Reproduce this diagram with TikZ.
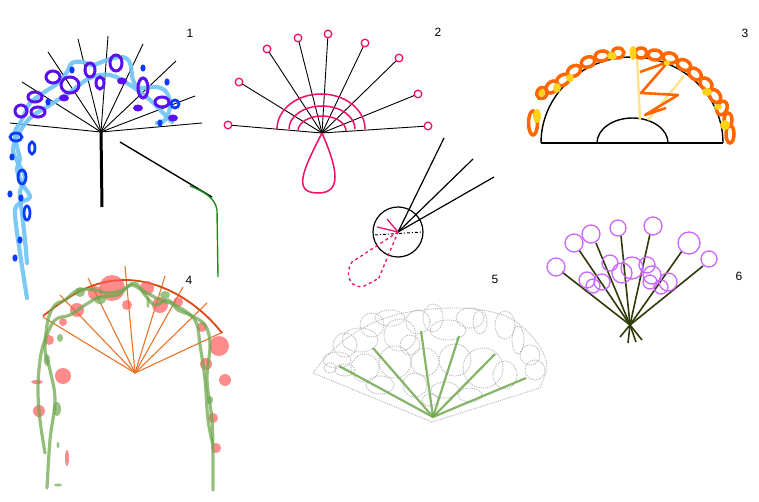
\documentclass[tikz,border=0pt]{standalone}
\usepackage{fontspec}
\setmainfont{Liberation Sans}
\usepackage{tikz}
\usetikzlibrary{positioning,calc}

\definecolor{skyblue}{HTML}{6EC3F5}
\definecolor{ringblue}{HTML}{0A3CFF}
\definecolor{ringviolet}{HTML}{5A10F0}
\definecolor{rosepink}{HTML}{EE1166}
\definecolor{fireorange}{HTML}{FF6600}
\definecolor{sunyellow}{HTML}{FFD21A}
\definecolor{paleyellow}{HTML}{FFE28A}
\definecolor{rustorange}{HTML}{D9480F}
\definecolor{spokeorange}{HTML}{E8742A}
\definecolor{vinegreen}{HTML}{6FA84F}
\definecolor{blobred}{HTML}{FF5A5A}
\definecolor{stemgreen}{HTML}{2E3A08}
\definecolor{ballviolet}{HTML}{CC66FF}
\definecolor{leafgreen}{HTML}{1E8C1E}

\begin{document}
\begin{tikzpicture}[x=1pt, y=-1pt]
    \tikzstyle{numlabel} = [font=\fontsize{12}{14}\selectfont, text=black, inner sep=0pt]
    \tikzstyle{thinspoke} = [black, line width=0.9pt]
    \tikzstyle{bluering} = [draw=ringblue, line width=2.8pt]
    \tikzstyle{violetring} = [draw=ringviolet, line width=3pt]
    \tikzstyle{bluedot} = [fill=ringblue]
    \tikzstyle{pinkbud} = [draw=rosepink, fill=white, line width=1.3pt]
    \tikzstyle{orangering} = [draw=fireorange, line width=3.5pt]
    \tikzstyle{yellowdot} = [fill=sunyellow]
    \tikzstyle{vine} = [draw=vinegreen, line width=3.2pt, opacity=0.75, line cap=round]
    \tikzstyle{redblob} = [fill=blobred, opacity=0.7]
    \tikzstyle{greenblob} = [fill=vinegreen, opacity=0.7]
    \tikzstyle{greybubble} = [draw=gray!60, densely dotted, line width=0.9pt]
    \tikzstyle{greenrib} = [draw=vinegreen, line width=2.2pt, opacity=0.85]
    \tikzstyle{darkstem} = [draw=stemgreen, line width=1.6pt]
    \tikzstyle{violetball} = [draw=ballviolet, line width=1.3pt]

    \useasboundingbox (0,0) rectangle (759,502);

    % ---- 1 ----
    \coordinate (hub1) at (101,132);
    \foreach \p in {(10,123),(22,82),(48,52),(78,39),(108,36),(143,44),(176,61),(195,96),(202,123)}
        \draw [thinspoke] (hub1) -- \p;
    \draw [black, line width=3pt] (hub1) -- (102,207);
    \draw [skyblue, line width=4.2pt, line cap=round, opacity=0.9]
        plot [smooth, tension=0.6] coordinates {(27,298) (20,253) (15,213) (20,203) (30,197) (23,185) (17,170) (20,160) (17,147) (15,132) (20,123) (25,113) (30,103) (43,93) (58,83) (67,72) (72,63) (83,62) (93,65) (107,60) (122,57) (130,63) (133,80) (140,88) (157,87) (167,93) (170,107) (165,120) (157,123)};
    \draw [skyblue, line width=4.2pt, line cap=round, opacity=0.9]
        plot [smooth, tension=0.6] coordinates {(27,263) (25,240) (22,213) (20,192) (25,177) (18,163) (13,150) (18,135) (30,118) (50,105) (70,92) (90,78) (110,75) (130,85) (150,100) (165,115) (172,122)};
    \foreach \x/\y/\a/\b in {53/77/7/6, 70/85/9/8, 35/97/7/5, 38/112/7/5, 21/111/6/6, 90/70/5/7, 100/83/4/6, 116/63/6/8, 143/88/5/10, 162/102/7/5}
        \draw [violetring] (\x,\y) ellipse ({\a} and {\b});
    \foreach \x/\y in {64/98, 122/81, 138/108, 173/118}
        \fill [ringviolet] (\x,\y) ellipse (5 and 3.5);
    \foreach \x/\y/\a/\b in {16/137/6/4, 32/148/3/6, 22/177/4/7, 27/213/3/7, 175/104/4/4}
        \draw [bluering] (\x,\y) ellipse ({\a} and {\b});
    \foreach \x/\y in {12/157, 10/194, 21/198, 20/240, 15/258, 167/82, 143/68, 72/70, 48/102, 160/123}
        \fill [bluedot] (\x,\y) ellipse (2.6 and 3.6);
    \node [numlabel] (lbl1) at (190,33) {1};

    % stray stroke between 1 and 4
    \draw [black, line width=1.4pt] (120,142) -- (212,197);
    \draw [leafgreen, line width=1.4pt] (190,186) .. controls (205,192) and (215,198) .. (217,210) -- (218,277);

    % ---- 2 ----
    \coordinate (hub2) at (322,133);
    \foreach \p in {(228,125),(239,82),(267,49),(298,38),(328,34),(365,43),(399,58),(418,94),(428,126)}
        \draw [thinspoke] (hub2) -- \p;
    \draw [rosepink, line width=1.5pt] (277,129) arc [start angle=180, end angle=360, x radius=44, y radius=35];
    \draw [rosepink, line width=1.5pt] (289,129) arc [start angle=180, end angle=360, x radius=33, y radius=23];
    \draw [rosepink, line width=1.5pt] (298,131) arc [start angle=180, end angle=360, x radius=24, y radius=15];
    \draw [rosepink, line width=1.5pt] (hub2) .. controls (303,170) and (292,193) .. (318,193) .. controls (342,193) and (338,170) .. (hub2);
    \foreach \p in {(228,125),(239,82),(267,49),(298,38),(328,34),(365,43),(399,58),(418,94),(428,126)}
        \draw [pinkbud] \p circle (3.8);
    \node [numlabel] (lbl2) at (438,32) {2};

    % ---- 3 ----
    \draw [black, line width=1.4pt] (541,143) -- (723,143);
    \draw [black, line width=1.4pt] (541,143) arc [start angle=180, end angle=360, x radius=91, y radius=86];
    \draw [black, line width=1.4pt] (597,143) arc [start angle=180, end angle=360, x radius=35.5, y radius=25];
    \draw [paleyellow, line width=2.4pt] (637,56) -- (640,120);
    \draw [paleyellow, line width=2.4pt] (648,120) -- (684,76);
    \draw [fireorange, line width=2.6pt, line join=round]
        (640,72) -- (668,62) -- (641,93) -- (678,95) -- (645,115) -- (666,108);
    \foreach \x/\y/\a/\b/\r in {533/123/4.5/12/0, 542/93/6/5/60, 552/87/7/5/45, 563/80/7/5/35, 574/71/7/5/30, 588/62/7/5/20, 602/56/7/5/10, 618/53/6/5/5, 641/53/6/5/0, 655/55/7/5/-5, 670/58/7/5/-15, 684/65/7/5/-25, 695/74/7/5/-40, 706/84/7/5/-45, 715/96/7/5/-55, 722/108/5/7/-20, 728/120/4/7/0, 730/134/4/9/0}
        \draw [orangering, shift={(\x,\y)}, rotate=\r] (0,0) ellipse ({\a} and {\b});
    \foreach \x/\y/\a/\b in {537/116/4/7, 542/93/3/4, 557/88/4/5, 570/78/4/4, 612/56/5/4, 633/53/3.5/7, 667/63/3/3, 707/92/5/4, 718/107/4/3, 725/125/5/5}
        \fill [yellowdot] (\x,\y) ellipse ({\a} and {\b});
    \node [numlabel] (lbl3) at (745,33) {3};

    % ---- 5 (top, lens) ----
    \node [draw=black, line width=1.2pt, circle, minimum size=50pt, inner sep=0pt] (lens) at (398,232) {};
    \foreach \p in {(444,138),(473,159),(494,177)}
        \draw [black, line width=1.2pt] (lens.center) -- \p;
    \draw [black, line width=1pt, dash dot] (375,235) -- (422,232);
    \draw [rosepink, line width=1.3pt] (lens.center) -- (387,219);
    \draw [rosepink, line width=1.3pt] (lens.center) -- (377,227);
    \draw [rosepink, line width=1.3pt, dashed] (lens.center) -- (352,262) .. controls (343,275) and (352,290) .. (364,286) .. controls (372,283) and (376,278) .. (378,280) -- (lens.center);
    \node [numlabel] (lbl5) at (495,279) {5};

    % ---- 4 ----
    \coordinate (hub4) at (135,373);
    \foreach \p in {(43,317),(60,295),(88,278),(125,266),(165,276),(183,287),(207,303),(223,332)}
        \draw [spokeorange, line width=1.1pt] (hub4) -- \p;
    \draw [rustorange, line width=1.8pt] (43,316) .. controls (80,287) and (100,280) .. (127,280) .. controls (165,281) and (200,305) .. (222,333);
    \foreach \x/\y/\r in {112/288/13, 95/293/7, 127/305/5, 77/310/7, 63/322/4, 49/340/5, 63/376/8, 39/411/6, 147/288/7, 160/305/8, 178/302/5, 202/327/5, 219/346/10, 206/364/6, 225/380/6, 213/418/5, 216/448/5}
        \fill [redblob] (\x,\y) circle (\r);
    \fill [redblob] (67,458) ellipse (2 and 8);
    \fill [redblob] (37,382) ellipse (6 and 2);
    \foreach \x/\y/\a/\b in {80/292/5/5, 100/300/6/4, 165/295/5/4, 47/360/3/6, 57/409/4/7, 60/338/3/4, 210/400/3/4, 148/302/1.5/6, 58/445/1.5/3, 58/485/4/1.5}
        \fill [greenblob] (\x,\y) ellipse ({\a} and {\b});
    \draw [vine] plot [smooth, tension=0.6] coordinates {(47,488) (50,440) (55,400) (50,370) (45,350) (48,320) (55,305) (65,300) (78,290) (95,290) (108,293) (123,290) (135,283) (145,295) (155,305) (168,300) (178,310) (190,315) (205,325) (210,345) (207,380) (212,420) (213,460) (213,490)};
    \draw [vine] plot [smooth, tension=0.6] coordinates {(45,453) (40,420) (38,390) (40,360) (45,340) (55,320) (70,315) (85,305) (100,297) (118,295) (130,285) (142,290) (160,300) (175,305) (195,320) (200,345) (205,380) (208,420) (213,445)};
    \node [numlabel] (lbl4) at (189,280) {4};

    % ---- 5 (fan) ----
    \draw [greybubble] (432,422) -- (313,373) .. controls (333,345) and (365,318) .. (415,311) .. controls (455,305) and (495,308) .. (515,321) .. controls (535,335) and (548,355) .. (547,370) -- (540,388) -- cycle;
    \foreach \x/\y/\a/\b in {345/345/12/12, 337/360/14/8, 360/340/18/12, 372/325/12/12, 390/318/15/8, 400/335/16/16, 418/322/12/12, 433/318/10/14, 448/330/18/10, 470/318/14/10, 480/322/7/12, 505/325/10/14, 518/340/6/14, 530/355/10/10, 535/370/10/10, 483/368/20/20, 455/360/16/16, 425/362/14/14, 395/362/16/16, 365/368/14/14, 345/370/10/6, 380/385/14/9, 415/385/12/12, 445/390/14/8, 505/375/12/14, 470/395/12/7, 430/400/8/6, 330/368/6/5, 410/345/10/10}
        \draw [greybubble] (\x,\y) ellipse ({\a} and {\b});
    \foreach \p in {(339,366),(373,348),(421,331),(459,336),(495,354),(526,378)}
        \draw [greenrib] (433,417) -- \p;

    % ---- 6 ----
    \coordinate (hub6) at (630,325);
    \foreach \p in {(562,272),(579,250),(596,243),(621,236),(650,234),(682,251),(703,266)}
        \draw [darkstem] (hub6) -- \p;
    \draw [darkstem] (hub6) -- (620,337);
    \draw [darkstem] (hub6) -- (628,343);
    \draw [darkstem] (hub6) -- (642,340);
    \draw [darkstem] (hub6) -- (636,342);
    \foreach \x/\y/\r in {556/267/9, 574/243/9, 591/234/9, 618/228/8, 653/226/9, 689/243/11, 709/259/8, 587/280/8, 593/286/7, 602/282/8, 610/263/8, 622/273/10, 632/268/11, 647/265/8, 652/275/9, 650/282/7, 668/282/9, 661/287/7}
        \draw [violetball] (\x,\y) circle (\r);
    \node [numlabel] (lbl6) at (739,276) {6};
\end{tikzpicture}
\end{document}
